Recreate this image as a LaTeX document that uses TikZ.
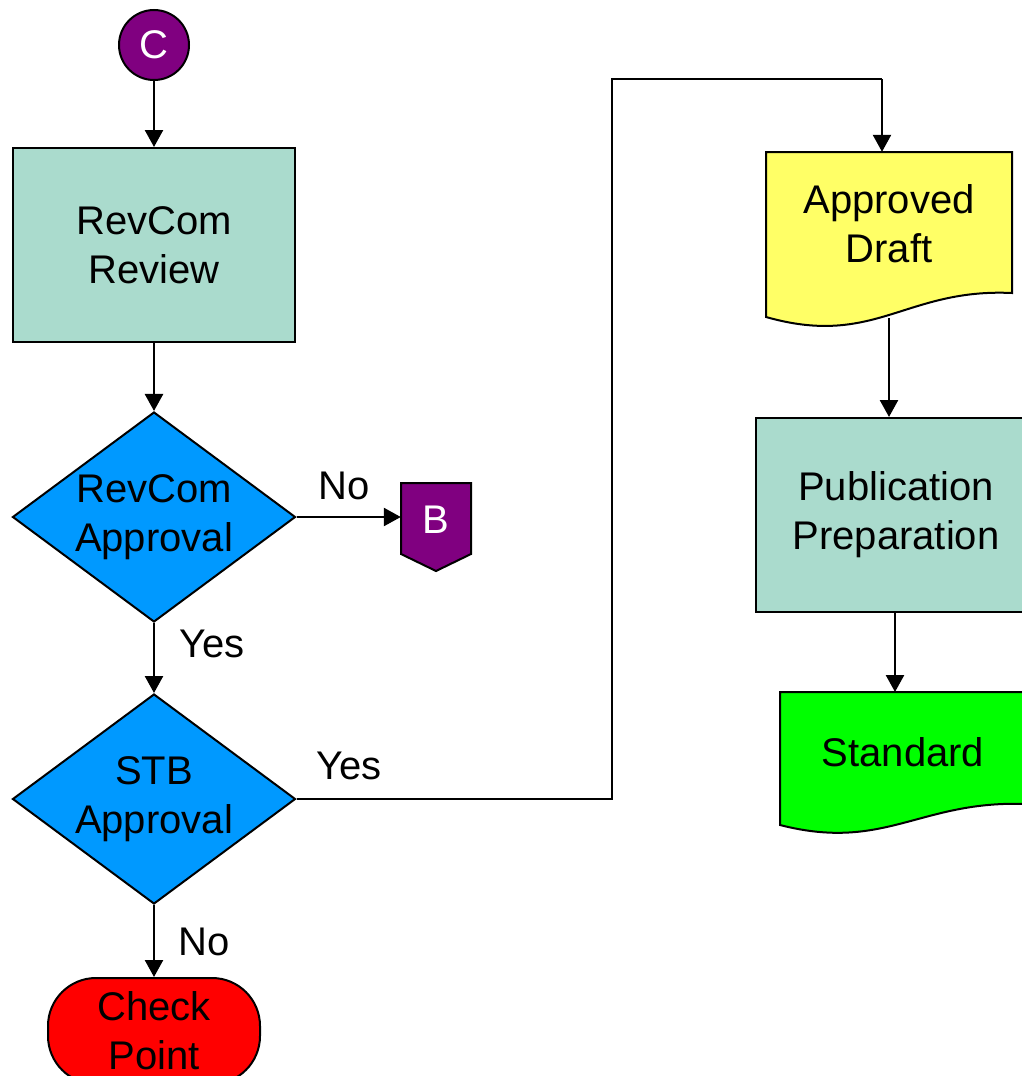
\documentclass[tikz,border=0pt]{standalone}
\usepackage{fontspec}
\setmainfont{Liberation Sans}
\usetikzlibrary{shapes.geometric,arrows.meta}
\definecolor{purp}{HTML}{800080}
\definecolor{tealbox}{HTML}{AADBCD}
\definecolor{bluedec}{HTML}{0099FF}
\definecolor{yelldoc}{HTML}{FFFF66}
\definecolor{grndoc}{HTML}{00FF00}
\definecolor{redterm}{HTML}{FF0000}
\begin{document}
\begin{tikzpicture}[x=1pt,y=-1pt,
  font=\fontsize{40}{49}\selectfont,
  conn/.style={line width=2.5pt,-{Triangle[length=17pt,width=18pt]}},
  plainline/.style={line width=2.5pt},
  procbox/.style={rectangle,draw,line width=2pt,fill=tealbox,align=center,inner sep=0pt},
  dec/.style={diamond,draw,line width=2pt,fill=bluedec,aspect=1.35,minimum width=283pt,minimum height=210pt,inner sep=0pt,align=center},
  lbl/.style={inner sep=0pt,text height=29pt,text depth=0pt},
  anchorbox/.style={rectangle,draw=none,inner sep=0pt},
  shapeline/.style={draw,line width=2pt}
]
\useasboundingbox (0,0) rectangle (1021,1076);

% start connector C
\node[circle,draw,line width=2pt,fill=purp,text=white,minimum size=70pt,inner sep=0pt] (c) at (154,45) {C};

% RevCom Review
\node[procbox,minimum width=282pt,minimum height=194pt] (rev) at (154,245) {RevCom\\Review};

% decisions
\node[dec] (d1) at (154,517) {RevCom\\Approval};
\node[dec] (d2) at (154,799) {STB\\Approval};

% off-page connector B
\filldraw[shapeline,fill=purp] (401,483) -- (471,483) -- (471,554) -- (436,571) -- (401,554) -- cycle;
\node[anchorbox,text=white,minimum width=70pt,text height=29pt,text depth=0pt] (b) at (436,519) {B};

% Check Point terminator
\node[rectangle,draw,line width=2pt,fill=redterm,rounded corners=48pt,minimum width=212pt,minimum height=106pt,inner sep=0pt,align=center] (chk) at (154,1031) {Check\\Point};

% Approved Draft document
\filldraw[shapeline,fill=yelldoc] (766,152) -- (1012,152) -- (1012,293)
  .. controls (905,288) and (875,348) .. (766,317) -- cycle;
\node[anchorbox,minimum width=246pt,minimum height=166pt] (draft) at (889,235) {};
\node[align=center,inner sep=0pt] (draftt) at (889,224) {Approved\\Draft};

% Publication Preparation
\node[procbox,minimum width=280pt,minimum height=194pt] (pub) at (896,515) {Publication\\Preparation};

% Standard document
\filldraw[shapeline,fill=grndoc] (780,692) -- (1026,692) -- (1026,804)
  .. controls (920,800) and (885,852) .. (780,825) -- cycle;
\node[lbl] (std) at (903,752) {Standard};
\coordinate (stdtop) at (895,692);

% routing points
\coordinate (j1) at (612,799);
\coordinate (j2) at (612,79);
\coordinate (j3) at (882,79);

% connectors
\draw[conn] (c) -- (rev);
\draw[conn] (rev) -- (d1);
\draw[conn] (d1.east) -- (d1.east -| b.west);
\draw[conn] (d1.south) -- (d2.north);
\draw[conn] (d2.south) -- (chk.north);
\draw[plainline] (d2.east) -- (j1) -- (j2) -- (j3);
\draw[conn] (j3) -- (j3 |- draft.north);
\draw[conn] (draft.south) -- (draft.south |- pub.north);
\draw[conn] (pub.south -| stdtop) -- (stdtop);

% labels
\node[lbl] (l1) at (344,485) {No};
\node[lbl] (l2) at (212,643) {Yes};
\node[lbl] (l3) at (349,765) {Yes};
\node[lbl] (l4) at (204,941) {No};
\end{tikzpicture}
\end{document}
